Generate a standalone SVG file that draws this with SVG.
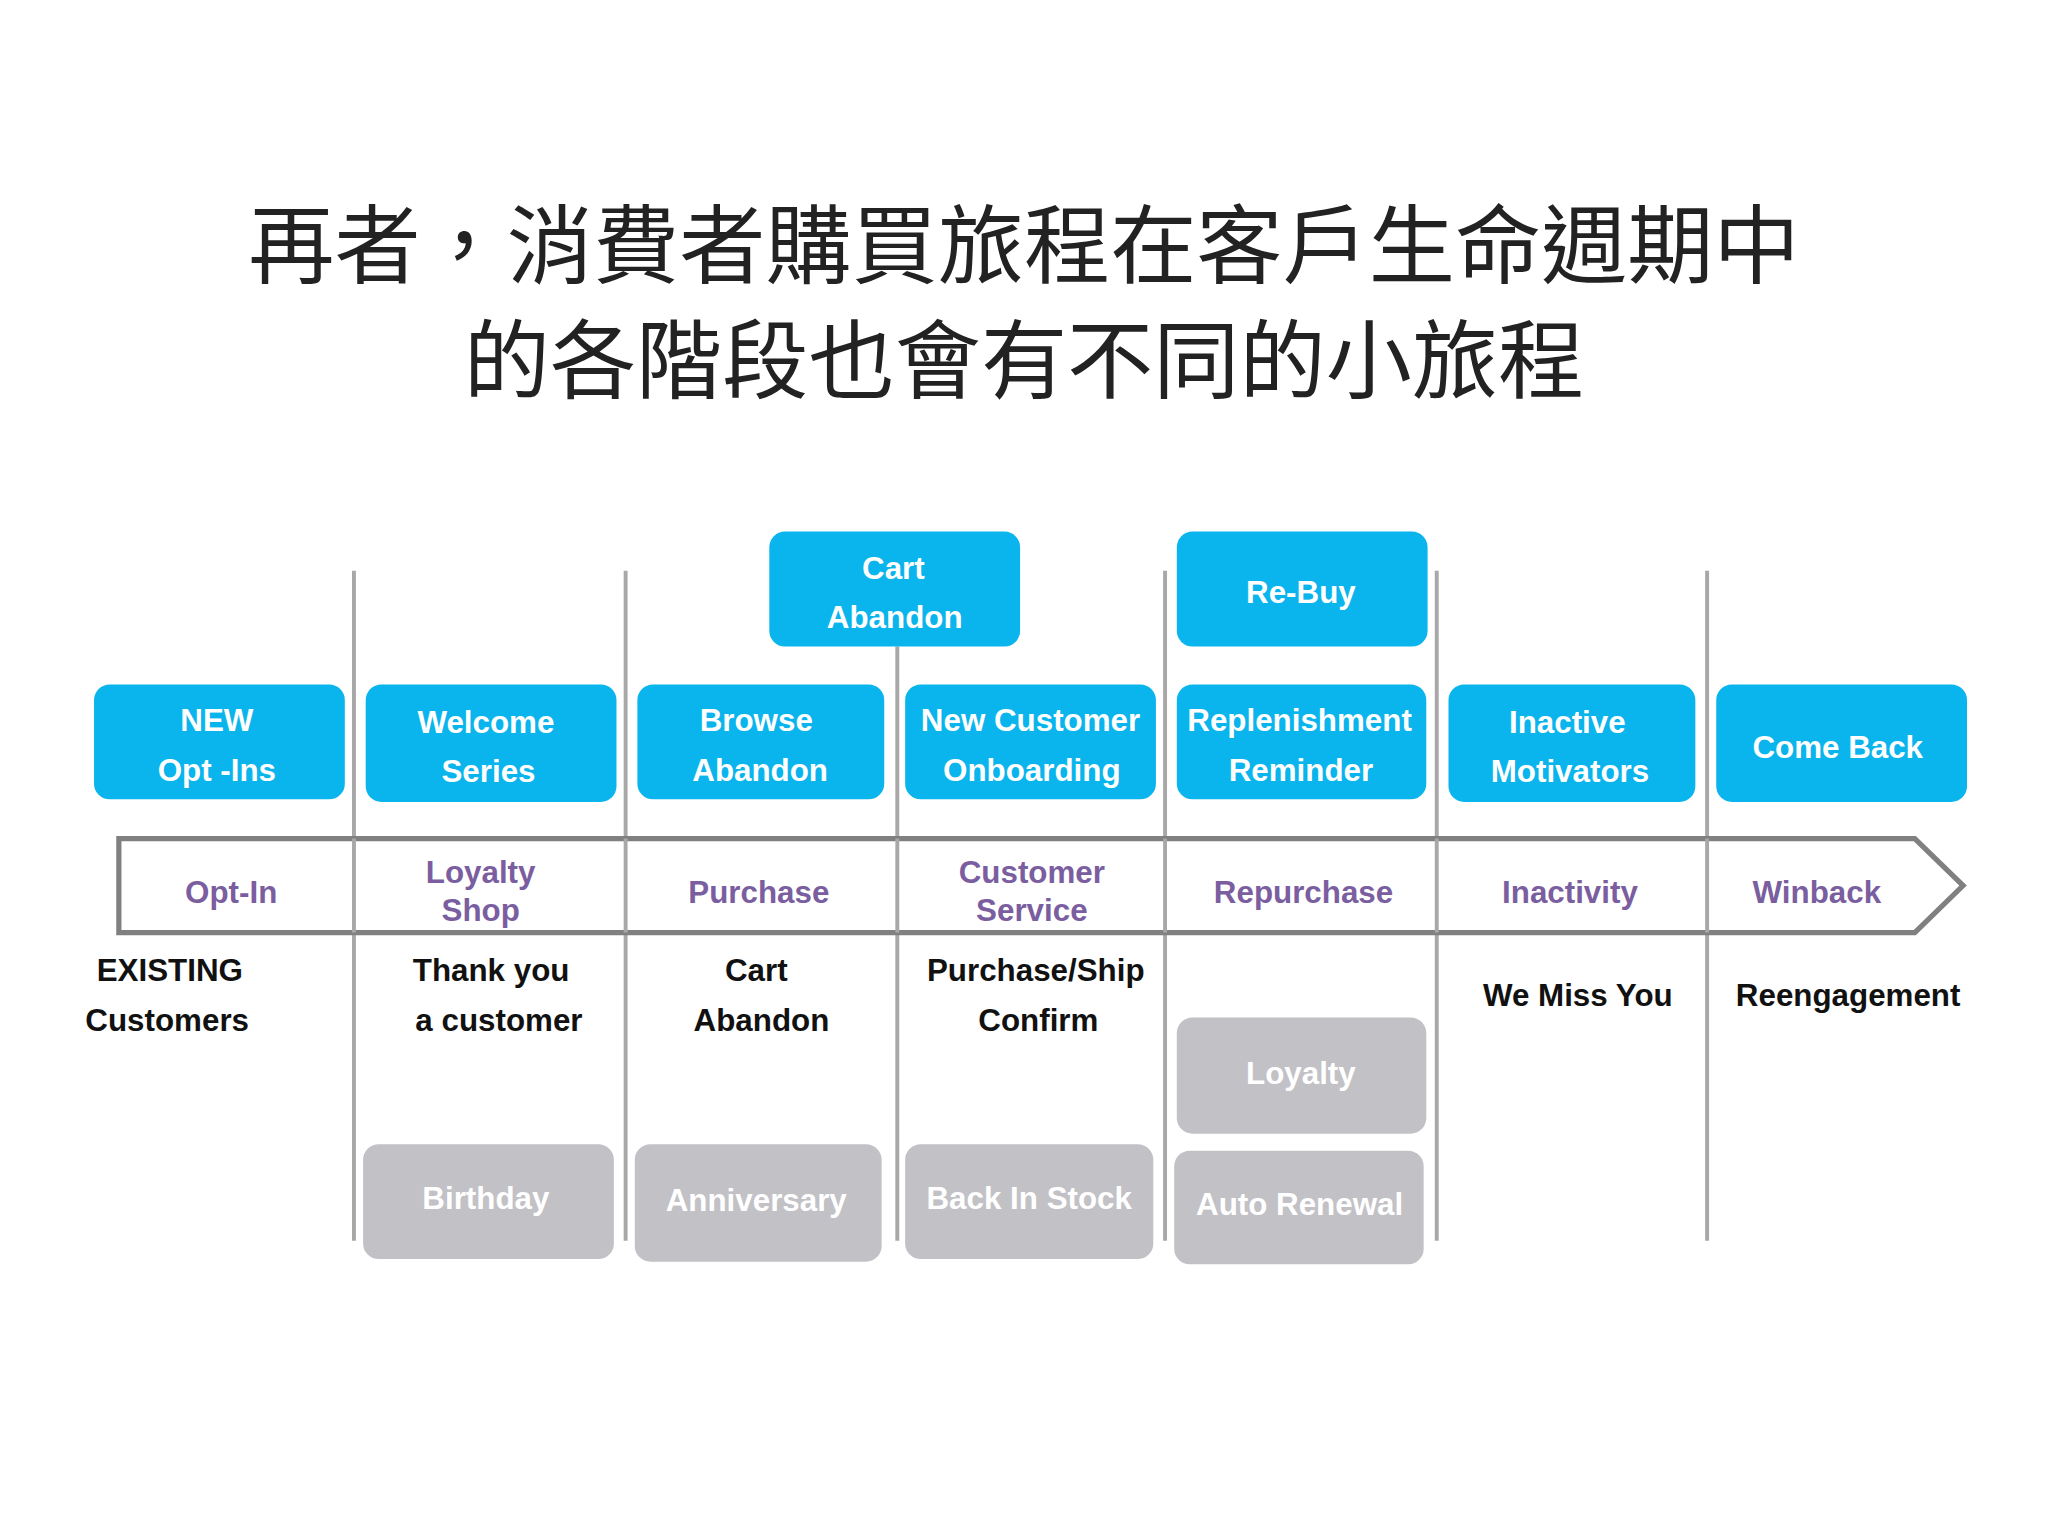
<svg xmlns="http://www.w3.org/2000/svg" width="2048" height="1536" viewBox="0 0 2048 1536">
<style>
.t{font-family:"Noto Sans CJK TC","Noto Sans CJK SC",sans-serif;font-size:66px;fill:#222;text-anchor:middle}
.b{fill:#0ab4ec}
.g{fill:#c2c1c6}
.w{font-family:"Liberation Sans",Arial,sans-serif;font-weight:bold;font-size:24px;fill:#fff;text-anchor:middle}
.p{font-family:"Liberation Sans",Arial,sans-serif;font-weight:bold;font-size:24px;fill:#7a5ea0;text-anchor:middle}
.k{font-family:"Liberation Sans",Arial,sans-serif;font-weight:bold;font-size:24px;fill:#111;text-anchor:middle}
.v{stroke:#a8a8a8;stroke-width:3}
</style>
<rect width="2048" height="1536" fill="#fff"/>
<g transform="scale(1.30612)">
<text class="t" x="784" y="212">再者，消費者購買旅程在客戶生命週期中</text>
<text class="t" x="784" y="300">的各階段也會有不同的小旅程</text>
<g id="connectors">
<line class="v" x1="271" y1="437" x2="271" y2="950"/>
<line class="v" x1="479" y1="437" x2="479" y2="950"/>
<line class="v" x1="687" y1="495" x2="687" y2="950"/>
<line class="v" x1="892" y1="437" x2="892" y2="950"/>
<line class="v" x1="1100" y1="437" x2="1100" y2="950"/>
<line class="v" x1="1307" y1="437" x2="1307" y2="950"/>
</g>
<g id="timeline">
<polygon points="91,642 1466,642 1503,678 1466,714 91,714" fill="#fff" stroke="#808080" stroke-width="4"/>
<line class="v" x1="271" y1="642" x2="271" y2="714"/>
<line class="v" x1="479" y1="642" x2="479" y2="714"/>
<line class="v" x1="687" y1="642" x2="687" y2="714"/>
<line class="v" x1="892" y1="642" x2="892" y2="714"/>
<line class="v" x1="1100" y1="642" x2="1100" y2="714"/>
<line class="v" x1="1307" y1="642" x2="1307" y2="714"/>
<text class="p" x="177" y="691">Opt-In</text>
<text class="p" x="368" y="676">Loyalty</text><text class="p" x="368" y="705">Shop</text>
<text class="p" x="581" y="691">Purchase</text>
<text class="p" x="790" y="676">Customer</text><text class="p" x="790" y="705">Service</text>
<text class="p" x="998" y="691">Repurchase</text>
<text class="p" x="1202" y="691">Inactivity</text>
<text class="p" x="1391" y="691">Winback</text>
</g>
<g id="n-new"><rect class="b" x="72" y="524" width="192" height="88" rx="12"/><text class="w" x="166" y="560">NEW</text><text class="w" x="166" y="598">Opt -Ins</text></g>
<g id="n-welcome"><rect class="b" x="280" y="524" width="192" height="90" rx="12"/><text class="w" x="372" y="561">Welcome</text><text class="w" x="374" y="599">Series</text></g>
<g id="n-browse"><rect class="b" x="488" y="524" width="189" height="88" rx="12"/><text class="w" x="579" y="560">Browse</text><text class="w" x="582" y="598">Abandon</text></g>
<g id="n-newcust"><rect class="b" x="693" y="524" width="192" height="88" rx="12"/><text class="w" x="789" y="560">New Customer</text><text class="w" x="790" y="598">Onboarding</text></g>
<g id="n-repl"><rect class="b" x="901" y="524" width="191" height="88" rx="12"/><text class="w" x="995" y="560">Replenishment</text><text class="w" x="996" y="598">Reminder</text></g>
<g id="n-inactive"><rect class="b" x="1109" y="524" width="189" height="90" rx="12"/><text class="w" x="1200" y="561">Inactive</text><text class="w" x="1202" y="599">Motivators</text></g>
<g id="n-comeback"><rect class="b" x="1314" y="524" width="192" height="90" rx="12"/><text class="w" x="1407" y="580">Come Back</text></g>
<g id="n-cart"><rect class="b" x="589" y="407" width="192" height="88" rx="12"/><text class="w" x="684" y="443">Cart</text><text class="w" x="685" y="481">Abandon</text></g>
<g id="n-rebuy"><rect class="b" x="901" y="407" width="192" height="88" rx="12"/><text class="w" x="996" y="462">Re-Buy</text></g>
<g id="labels">
<text class="k" x="130" y="751">EXISTING</text><text class="k" x="128" y="789">Customers</text>
<text class="k" x="376" y="751">Thank you</text><text class="k" x="382" y="789">a customer</text>
<text class="k" x="579" y="751">Cart</text><text class="k" x="583" y="789">Abandon</text>
<text class="k" x="793" y="751">Purchase/Ship</text><text class="k" x="795" y="789">Confirm</text>
<text class="k" x="1208" y="770">We Miss You</text>
<text class="k" x="1415" y="770">Reengagement</text>
</g>
<g id="n-loyalty"><rect class="g" x="901" y="779" width="191" height="89" rx="12"/><text class="w" x="996" y="830">Loyalty</text></g>
<g id="n-birthday"><rect class="g" x="278" y="876" width="192" height="88" rx="12"/><text class="w" x="372" y="926">Birthday</text></g>
<g id="n-anniv"><rect class="g" x="486" y="876" width="189" height="90" rx="12"/><text class="w" x="579" y="927">Anniversary</text></g>
<g id="n-backstock"><rect class="g" x="693" y="876" width="190" height="88" rx="12"/><text class="w" x="788" y="926">Back In Stock</text></g>
<g id="n-autorenew"><rect class="g" x="899" y="881" width="191" height="87" rx="12"/><text class="w" x="995" y="930">Auto Renewal</text></g>
</g>
</svg>
